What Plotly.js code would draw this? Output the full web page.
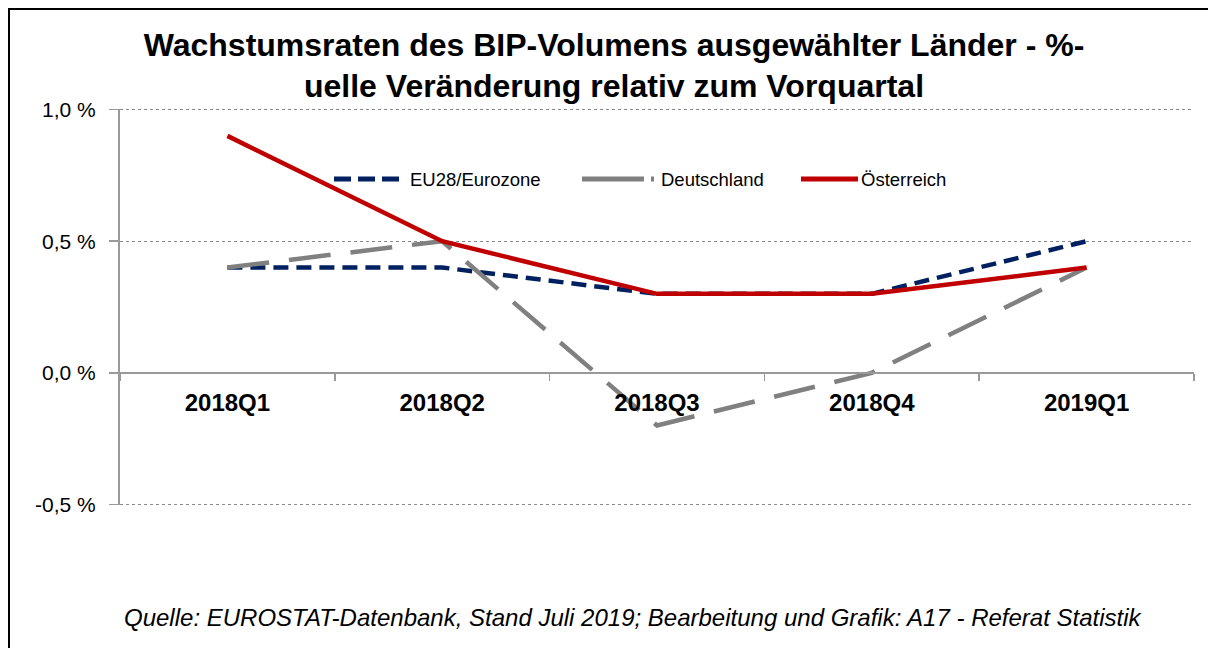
<!DOCTYPE html>
<html>
<head>
<meta charset="utf-8">
<script src="https://cdn.plot.ly/plotly-3.0.1.min.js"></script>
<style>html,body{margin:0;padding:0;background:#fff;}#chart{width:1208px;height:648px;}</style>
</head>
<body>
<div id="chart"></div>
<script>
const categories = ["2018Q1", "2018Q2", "2018Q3", "2018Q4", "2019Q1"];
const seriesNames = ["EU28/Eurozone", "Deutschland", "Österreich"];
const eu28 = [0.4, 0.4, 0.3, 0.3, 0.5];
const deutschland = [0.4, 0.5, -0.2, 0.0, 0.4];
const oesterreich = [0.9, 0.5, 0.3, 0.3, 0.4];
const yTickVals = [-0.5, 0, 0.5, 1.0];
const yTickText = ["-0,5 %", "0,0 %", "0,5 %", "1,0 %"];

const W = 1208, H = 648;
const L = 120, R = 14, T = 109, B = 143;
const pw = W - L - R, ph = H - T - B;
const px = x => (x - L) / pw;
const py = y => (H - B - y) / ph;

const font = "Liberation Sans, Arial, sans-serif";
const colors = ["#002060", "#808080", "#C00000"];

const traces = [
  {x: categories, y: eu28, name: seriesNames[0], type: "scatter", mode: "lines",
   line: {color: colors[0], width: 4.5, dash: "15px,8px"}},
  {x: categories, y: deutschland, name: seriesNames[1], type: "scatter", mode: "lines",
   line: {color: colors[1], width: 4.5, dash: "42px,20px"}},
  {x: categories, y: oesterreich, name: seriesNames[2], type: "scatter", mode: "lines",
   line: {color: colors[2], width: 4.5}}
];

// manual legend (sample segments + labels)
const legY = 179;
const legendItems = [
  {x0: 334, x1: 400, tx: 408, dash: "17px,7px"},
  {x0: 582, x1: 656, tx: 659, dash: "62px,7px,3px,60px"},
  {x0: 801, x1: 858, tx: 859, dash: "solid"}
];
const legendShapes = legendItems.map((it, i) => ({
  type: "line", xref: "paper", yref: "paper",
  x0: px(it.x0), x1: px(it.x1), y0: py(legY), y1: py(legY),
  line: {color: colors[i], width: 5, dash: it.dash}
}));
const legendLabels = legendItems.map((it, i) => ({
  text: seriesNames[i], xref: "paper", yref: "paper",
  x: px(it.tx), y: py(legY), xanchor: "left", yanchor: "middle",
  showarrow: false, font: {family: font, size: 18.5, color: "#000"}
}));

// dotted gridlines at the range edges (Plotly hides grid lines on the plot border)
const edgeGrid = [yTickVals[0], yTickVals[yTickVals.length - 1]].map(v => ({
  type: "line", xref: "paper", yref: "y", x0: 0, x1: 1, y0: v, y1: v,
  line: {color: "#888", width: 1, dash: "dot"}, layer: "below"
}));

const layout = {
  width: W, height: H,
  margin: {l: L, r: R, t: T, b: B},
  paper_bgcolor: "#fff", plot_bgcolor: "#fff",
  font: {family: font, color: "#000"},
  title: {
    text: "Wachstumsraten des BIP-Volumens ausgewählter Länder - %-<br>uelle Veränderung relativ zum Vorquartal",
    font: {family: font, size: 32, color: "#000", weight: "bold"},
    x: px(614), xanchor: "center", xref: "paper",
    y: 1 - 55.5 / H, yanchor: "middle", yref: "container"
  },
  showlegend: false,
  xaxis: {
    type: "category", range: [-0.5, 4.5],
    anchor: "free", position: py(373),
    showline: true, linecolor: "#999", linewidth: 2,
    ticks: "outside", tickson: "boundaries", ticklen: 7, tickcolor: "#999", tickwidth: 1.5,
    showgrid: false, zeroline: false,
    tickfont: {family: font, size: 24, color: "#000", weight: "bold"},
    ticklabelstandoff: 8, fixedrange: true
  },
  yaxis: {
    range: [-0.502, 1.002],
    tickvals: yTickVals, ticktext: yTickText,
    showline: true, linecolor: "#999", linewidth: 2,
    ticks: "outside", ticklen: 9, tickcolor: "#999", tickwidth: 1.5,
    showgrid: true, gridcolor: "#888", griddash: "dot", gridwidth: 1,
    zeroline: false,
    tickfont: {family: font, size: 21, color: "#000"},
    ticklabelstandoff: 9, fixedrange: true
  },
  annotations: [{
    text: "Quelle: EUROSTAT-Datenbank, Stand Juli 2019; Bearbeitung und Grafik: A17 - Referat Statistik",
    xref: "paper", yref: "paper", x: px(633), y: py(617), xanchor: "center", yanchor: "middle",
    showarrow: false, font: {family: font, size: 24, color: "#000", style: "italic"}
  }].concat(legendLabels),
  shapes: [
    {type: "line", xref: "paper", yref: "paper", x0: px(8), x1: px(1300), y0: py(9), y1: py(9),
     line: {color: "#000", width: 2}},
    {type: "line", xref: "paper", yref: "paper", x0: px(9), x1: px(9), y0: py(8), y1: py(700),
     line: {color: "#000", width: 2}}
  ].concat(edgeGrid, legendShapes)
};

Plotly.newPlot("chart", traces, layout, {displayModeBar: false, staticPlot: true});
</script>
</body>
</html>
